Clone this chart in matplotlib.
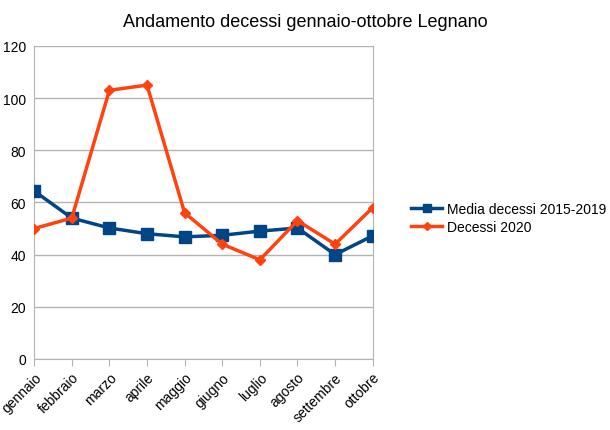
import numpy as np
import matplotlib.pyplot as plt

plt.rcParams['font.family'] = ['Liberation Sans', 'DejaVu Sans']

mesi = ['gennaio', 'febbraio', 'marzo', 'aprile', 'maggio', 'giugno',
        'luglio', 'agosto', 'settembre', 'ottobre']
media_2015_2019 = [64.4, 54, 50.2, 48, 46.8, 47.4, 49, 50.2, 40, 47.2]
decessi_2020 = [50, 54, 103, 105, 56, 44, 38, 53, 44, 58]

fig = plt.figure(figsize=(6.1, 4.31), dpi=100)
ax = fig.add_axes([0.056, 0.165, 0.555, 0.726])

x = np.arange(len(mesi))
ax.plot(x, media_2015_2019, color='#004586', lw=2.5, marker='s', ms=8,
        label='Media decessi 2015-2019', zorder=3)
ax.plot(x, decessi_2020, color='#ff420e', lw=2.5, marker='D', ms=5.5,
        label='Decessi 2020', zorder=4)

ax.set_xlim(0, len(mesi) - 1)
ax.set_ylim(0, 120)
ax.set_yticks(range(0, 121, 20))
ax.set_xticks(x)
ax.set_xticklabels(mesi, rotation=45, ha='right', rotation_mode='anchor')
ax.tick_params(axis='y', length=0, labelsize=10, pad=6)
ax.tick_params(axis='x', length=5, color='#b3b3b3', labelsize=10, pad=3)
ax.grid(axis='y', color='#b3b3b3', lw=1)
ax.set_axisbelow(True)
for s in ax.spines.values():
    s.set_color('#b3b3b3')
ax.spines['top'].set_visible(False)

fig.text(0.5, 0.948, 'Andamento decessi gennaio-ottobre Legnano',
         ha='center', va='center', fontsize=13)
ax.legend(loc='center left', bbox_to_anchor=(1.077, 0.45), frameon=False,
          fontsize=10, handlelength=2.2, handletextpad=0.4, labelspacing=0.3,
          markerscale=0.7)

plt.savefig('out.png', dpi=100)
